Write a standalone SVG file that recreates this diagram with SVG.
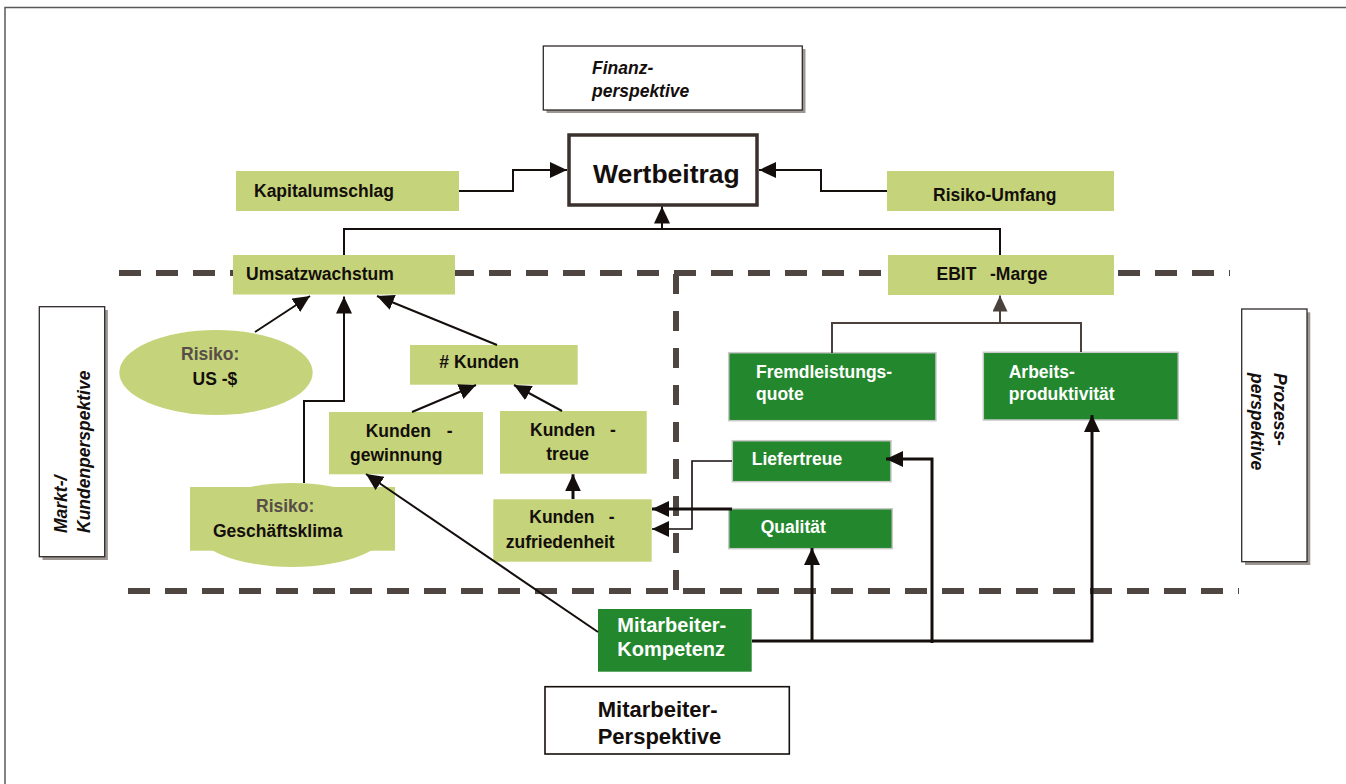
<svg xmlns="http://www.w3.org/2000/svg" width="1346" height="784" viewBox="0 0 1346 784">
<style>
text{font-family:"Liberation Sans",Arial,sans-serif;font-weight:bold;font-size:17.5px;fill:#140e0c}
.w{fill:#ffffff}
.it{font-style:italic}
.risk{fill:#574e48}
.lg{fill:#c5d47a}
.dg{fill:#23882d;stroke:#c9c9c9;stroke-width:1.5}
.dash{fill:none;stroke:#504641;stroke-width:6;stroke-dasharray:22 15}
.c{fill:none;stroke:#140e0c;stroke-width:2}
.c3{fill:none;stroke:#140e0c;stroke-width:3}
.cg{fill:none;stroke:#4a403c;stroke-width:2}
.persp{fill:#fff;stroke:#2e2a28;stroke-width:1.3}
.shadow{fill:#9d9794}
</style>
<defs>
<marker id="ah" markerWidth="17" markerHeight="16" refX="17" refY="8" orient="auto" markerUnits="userSpaceOnUse"><path d="M0,0 L17,8 L0,16 z" fill="#140e0c"/></marker>
<marker id="ahg" markerWidth="16" markerHeight="15" refX="16" refY="7.5" orient="auto" markerUnits="userSpaceOnUse"><path d="M0,0 L16,7.5 L0,15 z" fill="#4a403c"/></marker>
</defs>
<rect x="5" y="7.5" width="1400" height="900" fill="#fff" stroke="#5a5a5a" stroke-width="1.5"/>

<g id="dashes">
<path class="dash" d="M119,273 H1230"/>
<path class="dash" d="M676,274 V590" style="stroke-dasharray:20 17"/>
<path class="dash" d="M128,591 H1239"/>
</g>

<g id="finanz">
<rect class="shadow" x="546.5" y="49" width="259" height="64"/>
<rect class="persp" x="543.3" y="46" width="259" height="64"/>
<text class="it" x="592" y="74">Finanz-</text>
<text class="it" x="592" y="97">perspektive</text>
</g>
<g id="wertbeitrag">
<rect x="569" y="135" width="188" height="70" fill="#fff" stroke="#3a302c" stroke-width="3.5"/>
<text x="593" y="183" style="font-size:26.5px">Wertbeitrag</text>
</g>
<g id="kapitalumschlag">
<rect class="lg" x="236" y="171" width="223" height="40"/>
<text x="254" y="197">Kapitalumschlag</text>
</g>
<g id="risikoumfang">
<rect class="lg" x="887" y="171" width="227" height="40"/>
<text x="933" y="201">Risiko-Umfang</text>
</g>
<g id="umsatzwachstum">
<rect class="lg" x="233" y="255" width="222" height="39.5"/>
<text x="246" y="279.5">Umsatzwachstum</text>
</g>
<g id="ebit">
<rect class="lg" x="888" y="255" width="226" height="40"/>
<text x="936.5" y="279.5">EBIT<tspan x="990">-Marge</tspan></text>
</g>
<g id="markt">
<rect class="shadow" x="42.5" y="310" width="65.4" height="250"/>
<rect class="persp" x="39.3" y="306.7" width="65.4" height="250"/>
<text class="it" transform="translate(67,533) rotate(-90)">Markt-/</text>
<text class="it" transform="translate(90,533) rotate(-90)">Kundenperspektive</text>
</g>
<g id="prozess">
<rect class="shadow" x="1245" y="312.3" width="65.3" height="252.7"/>
<rect class="persp" x="1241.7" y="309" width="65.3" height="252.7"/>
<text class="it" transform="translate(1273.5,373) rotate(90)">Prozess-</text>
<text class="it" transform="translate(1251,373) rotate(90)">perspektive</text>
</g>
<g id="risiko-us">
<ellipse class="lg" cx="216" cy="372.5" rx="96.7" ry="42.5"/>
<text class="risk" x="181" y="360">Risiko:</text>
<text x="192.5" y="385">US -$</text>
</g>
<g id="risiko-klima">
<ellipse class="lg" cx="292" cy="525" rx="100" ry="42"/>
<rect class="lg" x="190" y="487" width="205" height="63.7"/>
<text class="risk" x="256" y="511.5">Risiko:</text>
<text x="213" y="537">Geschäftsklima</text>
</g>
<g id="anzahl-kunden">
<rect class="lg" x="410" y="345" width="167.7" height="39.7"/>
<text x="439.3" y="368.3"># Kunden</text>
</g>
<g id="kundengewinnung">
<rect class="lg" x="329" y="412" width="154" height="62.3"/>
<text x="365.7" y="436.7">Kunden<tspan x="446.7">-</tspan></text>
<text x="350" y="460.7">gewinnung</text>
</g>
<g id="kundentreue">
<rect class="lg" x="500" y="411" width="146.7" height="62.7"/>
<text x="530" y="435.7">Kunden<tspan x="610">-</tspan></text>
<text x="546.3" y="460">treue</text>
</g>
<g id="kundenzufriedenheit">
<rect class="lg" x="493.3" y="499.3" width="158.4" height="62.4"/>
<text x="529.3" y="523.3">Kunden<tspan x="608.7">-</tspan></text>
<text x="505.7" y="548.3">zufriedenheit</text>
</g>
<g id="fremdleistungsquote">
<rect class="dg" x="728.7" y="352.7" width="207.3" height="68"/>
<text class="w" x="756" y="378.3">Fremdleistungs-</text>
<text class="w" x="756" y="400">quote</text>
</g>
<g id="arbeitsproduktivitaet">
<rect class="dg" x="983.3" y="352.3" width="195" height="67.7"/>
<text class="w" x="1008.7" y="378.3">Arbeits-</text>
<text class="w" x="1008.7" y="400">produktivität</text>
</g>
<g id="liefertreue">
<rect class="dg" x="732.3" y="440.7" width="158.7" height="41"/>
<text class="w" x="751.7" y="465">Liefertreue</text>
</g>
<g id="qualitaet">
<rect class="dg" x="728.7" y="508.7" width="163.6" height="40"/>
<text class="w" x="760.7" y="533.3">Qualität</text>
</g>
<g id="mitarbeiter-kompetenz">
<rect x="598" y="609" width="153.7" height="62.7" fill="#23882d"/>
<text class="w" x="617.3" y="632.3" style="font-size:20px">Mitarbeiter-</text>
<text class="w" x="617.3" y="656" style="font-size:20px">Kompetenz</text>
</g>
<g id="mitarbeiter-perspektive">
<rect class="persp" x="545" y="686.7" width="244.3" height="67.3" style="stroke:#140e0c;stroke-width:1.6"/>
<text x="597.7" y="717.3" style="font-size:22px">Mitarbeiter-</text>
<text x="597.7" y="744" style="font-size:22px">Perspektive</text>
</g>

<g id="connectors">
<path class="c" d="M459,191 H513 V170 H567" marker-end="url(#ah)"/>
<path class="c" d="M887,191 H821 V170 H759" marker-end="url(#ah)"/>
<path class="c" d="M344,255 V229 H1000 V255"/>
<path class="c" d="M662,229 V206.5" marker-end="url(#ah)"/>
<path class="c" d="M255,332 L310,296" marker-end="url(#ah)"/>
<path class="c" d="M304,483 V401 H344 V296.5" marker-end="url(#ah)"/>
<path class="c" d="M497,345 L377,296" marker-end="url(#ah)"/>
<path class="c" d="M412,412 L476,385" marker-end="url(#ah)"/>
<path class="c" d="M562,411 L514,385" marker-end="url(#ah)"/>
<path class="c3" d="M573,499 V474.3" marker-end="url(#ah)"/>
<path class="c" style="stroke-width:1.6" d="M732,461 H692 V529 H652" marker-end="url(#ah)"/>
<path class="c3" d="M732,509 H652" marker-end="url(#ah)"/>
<path class="cg" d="M832,353 V323 H1081 V352"/>
<path class="cg" d="M1000,323 V295.5" marker-end="url(#ahg)"/>
<path class="c" d="M598,632 L366,474" marker-end="url(#ah)"/>
<path class="c3" d="M752,641 H1092 V415" marker-end="url(#ah)"/>
<path class="c3" d="M812,641 V548" marker-end="url(#ah)"/>
<path class="c3" d="M932,643 V459 H886" marker-end="url(#ah)"/>
</g>
</svg>
